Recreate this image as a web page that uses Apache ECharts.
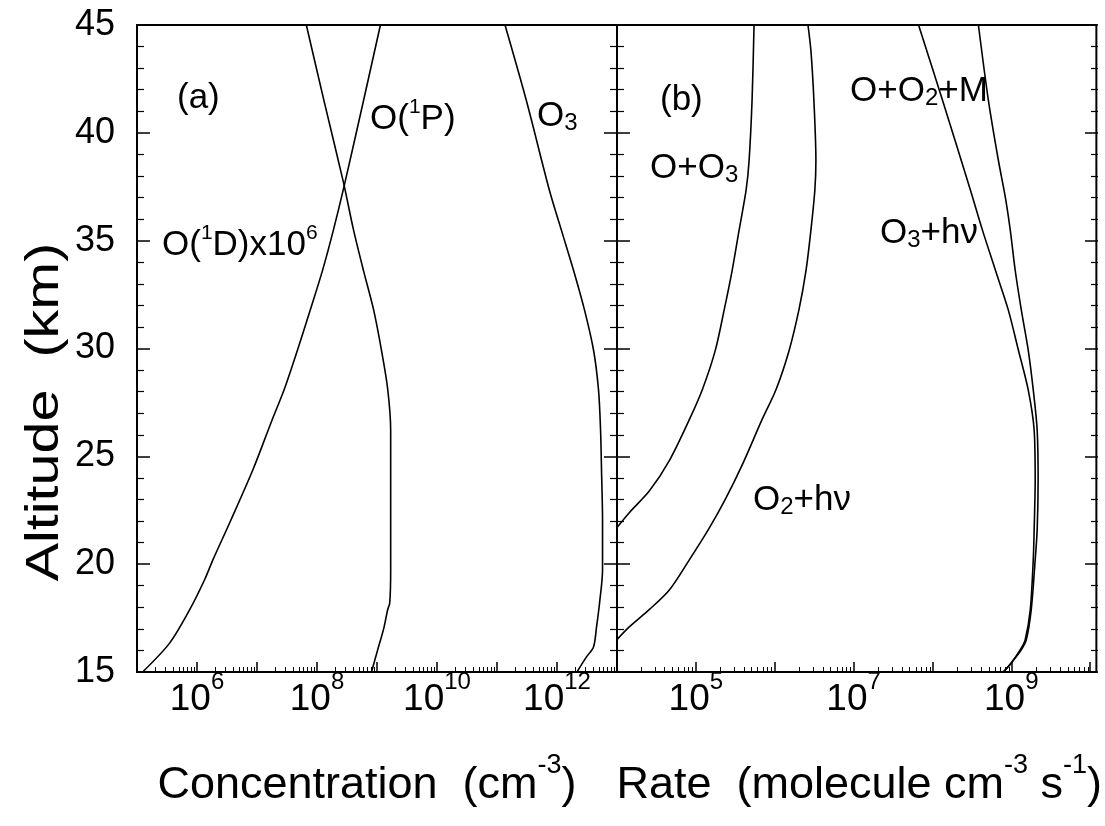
<!DOCTYPE html>
<html><head><meta charset="utf-8">
<script src="https://cdn.jsdelivr.net/npm/echarts@6/dist/echarts.min.js"></script>
<style>html,body{margin:0;padding:0;background:#fff}#c{width:1105px;height:826px}</style>
</head><body><div id="c"></div>
<script>
// ---------- Panel (a): concentration (cm^-3) ----------
const o1dAlt = [15, 16.35, 17.9, 19.3, 20.2, 22.05, 24.4, 26.7, 28.1, 29.9, 31.8, 33.6, 35.5, 37.6, 41.5, 45];
const o1dVal = [1.24e5, 3.52e5, 7.59e5, 1.35e6, 1.84e6, 3.68e6, 8.61e6, 1.79e7, 2.84e7, 4.69e7, 7.74e7, 1.23e8, 1.88e8, 2.87e8, 5.97e8, 1.14e9];

const o1pAlt = [15, 16, 17, 17.9, 18.2, 19.7, 23, 26.2, 28.1, 29.9, 31.8, 33.6, 35.5, 37.7, 41.4, 45];
const o1pVal = [8.1e8, 1.02e9, 1.29e9, 1.51e9, 1.63e9, 1.69e9, 1.69e9, 1.69e9, 1.51e9, 1.19e9, 8.77e8, 5.97e8, 4.06e8, 2.76e8, 1.33e8, 6.64e7];

const o3Alt = [15, 15.7, 16.16, 17.09, 18.2, 19.73, 22.05, 24.37, 26.22, 28.08, 29.93, 31.79, 33.64, 35.5, 37.35, 41.52, 45];
const o3Val = [2.15e12, 3.1e12, 4.06e12, 4.56e12, 5.12e12, 5.74e12, 5.74e12, 5.52e12, 5.32e12, 4.92e12, 4.06e12, 2.87e12, 1.88e12, 1.18e12, 7.45e11, 3.07e11, 1.36e11];

// ---------- Panel (b): rate (molecule cm^-3 s^-1) ----------
const ooAlt = [21.7, 22.4, 23.4, 24.8, 26.7, 28.1, 29.9, 31.8, 33.6, 35.5, 37.35, 38.7, 41.5, 45];
const ooVal = [1.0e4, 1.44e4, 2.58e4, 4.61e4, 8.26e4, 1.21e5, 1.76e5, 2.29e5, 2.88e5, 3.54e5, 4.34e5, 4.73e5, 5.16e5, 5.47e5];

const o2hvAlt = [16.5, 17.1, 17.9, 18.8, 20.2, 21.6, 23.0, 24.7, 26.7, 28.1, 29.9, 31.8, 33.6, 35.5, 37.35, 38.7, 41.5, 43.8, 45];
const o2hvVal = [1.0e4, 1.44e4, 2.58e4, 4.61e4, 8.26e4, 1.44e5, 2.36e5, 3.98e5, 6.9e5, 1.04e6, 1.52e6, 2.03e6, 2.49e6, 2.88e6, 3.23e6, 3.33e6, 3.14e6, 2.88e6, 2.64e6];

const o3hvAlt = [15, 15.42, 16.03, 16.49, 17.88, 20.2, 21.59, 23.91, 26.22, 28.08, 29.93, 31.79, 33.64, 35.5, 37.35, 41.52, 45];
const o3hvVal = [7.92e8, 1.0e9, 1.3e9, 1.5e9, 1.74e9, 1.9e9, 1.95e9, 2.01e9, 1.95e9, 1.64e9, 1.23e9, 9.16e8, 6.28e8, 4.3e8, 3.03e8, 1.34e8, 6.67e7];

const oo2mAlt = [15, 15.42, 16.03, 16.49, 17.88, 20.2, 21.59, 23.91, 26.22, 28.08, 29.93, 31.79, 33.64, 35.5, 37.03, 38.74, 41.52, 45];
const oo2mVal = [7.92e8, 1.0e9, 1.34e9, 1.55e9, 1.79e9, 2.01e9, 2.13e9, 2.19e9, 2.13e9, 1.9e9, 1.64e9, 1.34e9, 1.12e9, 9.7e8, 8.39e8, 6.85e8, 5.12e8, 3.83e8];

// ---------- axis ticks ----------
const decadesA = [1e5, 1e6, 1e7, 1e8, 1e9, 1e10, 1e11, 1e12, 1e13];
const labelsA = [1e6, 1e8, 1e10, 1e12];
const decadesB = [1e4, 1e5, 1e6, 1e7, 1e8, 1e9, 1e10];
const labelsB = [1e5, 1e7, 1e9];

function minorTicks(decades) {
  const out = [];
  decades.forEach(d => { for (let k = 2; k <= 9; k++) out.push(d * k); });
  return out;
}

const FONT = 'Liberation Sans, Arial, Helvetica, sans-serif';
const BLACK = '#000';

function pairs(vals, alts) { return vals.map((v, i) => [v, alts[i]]); }

const tickRich = {
  b: { fontSize: 37, fontFamily: FONT, color: BLACK, lineHeight: 48, verticalAlign: 'bottom' },
  s: { fontSize: 24, fontFamily: FONT, color: BLACK, lineHeight: 24, verticalAlign: 'top' }
};
const powFmt = v => '{b|10}{s|' + Math.round(Math.log10(v)) + '}';

const nameRich = {
  t: { fontSize: 45, fontFamily: FONT, color: BLACK, lineHeight: 56, verticalAlign: 'bottom' },
  s: { fontSize: 27, fontFamily: FONT, color: BLACK, lineHeight: 30, verticalAlign: 'top' }
};

const labRich = {
  t: { fontSize: 35, fontFamily: FONT, color: BLACK, lineHeight: 46, verticalAlign: 'middle' },
  sup: { fontSize: 21, fontFamily: FONT, color: BLACK, verticalAlign: 'top', padding: [1, 0, 0, 0] },
  sub: { fontSize: 24, fontFamily: FONT, color: BLACK, verticalAlign: 'bottom', padding: [0, 0, 4, 0] }
};

function majorX(grid, min, max, decades, labels, name, pad) {
  return {
    gridIndex: grid, type: 'log', logBase: 10, min: min, max: max, position: 'bottom',
    axisLine: { show: false },
    axisTick: { show: true, inside: true, length: 10, customValues: decades, lineStyle: { color: BLACK, width: 1.5 } },
    axisLabel: { show: true, customValues: labels, formatter: powFmt, rich: tickRich, margin: -2, color: BLACK },
    splitLine: { show: false }, minorTick: { show: false }, minorSplitLine: { show: false },
    name: name, nameLocation: 'middle', nameGap: 80, nameTextStyle: { rich: nameRich, padding: pad }
  };
}
function minorX(grid, min, max, decades) {
  return {
    gridIndex: grid, type: 'log', logBase: 10, min: min, max: max, position: 'bottom',
    axisLine: { show: false },
    axisTick: { show: true, inside: true, length: 5, customValues: minorTicks(decades), lineStyle: { color: BLACK, width: 1 } },
    axisLabel: { show: false }, splitLine: { show: false }
  };
}
function yAx(grid, pos, withLabel) {
  return {
    gridIndex: grid, type: 'value', min: 15, max: 45, interval: 5, position: pos,
    axisLine: { show: false },
    axisTick: { show: true, inside: true, length: 13, lineStyle: { color: BLACK, width: 1.5 } },
    minorTick: { show: true, splitNumber: 5, length: 7, lineStyle: { color: BLACK, width: 1.2 } },
    splitLine: { show: false }, minorSplitLine: { show: false },
    axisLabel: { show: withLabel, fontSize: 36, fontFamily: FONT, color: BLACK, margin: 22 }
  };
}

const gridBox = { top: 25, height: 647 };
const lineStyle = { color: BLACK, width: 1.6 };
function curve(name, xi, yi, vals, alts) {
  return { name: name, type: 'line', xAxisIndex: xi, yAxisIndex: yi, data: pairs(vals, alts),
    showSymbol: false, symbol: 'none', smooth: 0.3, lineStyle: lineStyle, silent: true };
}

function label(text, left, top) {
  return { type: 'text', left: left, top: top, silent: true,
    style: { text: text, rich: labRich, fill: BLACK } };
}

const option = {
  animation: false,
  backgroundColor: '#fff',
  grid: [
    { left: 137, width: 480, ...gridBox, show: true, borderColor: BLACK, borderWidth: 2, backgroundColor: 'transparent' },
    { left: 137, width: 480, ...gridBox },
    { left: 617, width: 481, ...gridBox, show: true, borderColor: BLACK, borderWidth: 2, backgroundColor: 'transparent' },
    { left: 617, width: 481, ...gridBox }
  ],
  xAxis: [
    majorX(0, 1e5, 1e13, decadesA, labelsA, '{t|Concentration  (cm}{s|-3}{t|)}', [0, 20, 0, 0]),
    minorX(1, 1e5, 1e13, decadesA),
    majorX(2, 1e4, 1.2e10, decadesB, labelsB, '{t|Rate  (molecule cm}{s|-3}{t| s}{s|-1}{t|)}', [0, 0, 0, 5]),
    minorX(3, 1e4, 1.2e10, decadesB)
  ],
  yAxis: [
    yAx(0, 'left', true),
    yAx(1, 'right', false),
    yAx(2, 'left', false),
    yAx(3, 'right', false)
  ],
  series: [
    curve('O(1D)x10^6', 0, 0, o1dVal, o1dAlt),
    curve('O(1P)', 0, 0, o1pVal, o1pAlt),
    curve('O3', 0, 0, o3Val, o3Alt),
    curve('O+O3', 2, 2, ooVal, ooAlt),
    curve('O2+hv', 2, 2, o2hvVal, o2hvAlt),
    curve('O3+hv', 2, 2, o3hvVal, o3hvAlt),
    curve('O+O2+M', 2, 2, oo2mVal, oo2mAlt)
  ],
  graphic: [
    { type: 'text', x: 45, y: 412, rotation: Math.PI / 2, scaleX: 1.25, scaleY: 1, silent: true,
      style: { text: 'Altitude  (km)', fontSize: 46, fontFamily: FONT, fill: BLACK, align: 'center', verticalAlign: 'middle' } },
    label('{t|(a)}', 177, 81),
    label('{t|O(}{sup|1}{t|P)}', 370, 97),
    label('{t|O}{sub|3}', 537, 99),
    label('{t|O(}{sup|1}{t|D)x10}{sup|6}', 162, 223),
    label('{t|(b)}', 660, 83),
    label('{t|O+O}{sub|3}', 650, 151),
    label('{t|O+O}{sub|2}{t|+M}', 850, 74),
    label('{t|O}{sub|3}{t|+hν}', 880, 216),
    label('{t|O}{sub|2}{t|+hν}', 753, 483)
  ]
};

const chart = echarts.init(document.getElementById('c'), null, { renderer: 'canvas' });
chart.setOption(option);
</script>
</body></html>
